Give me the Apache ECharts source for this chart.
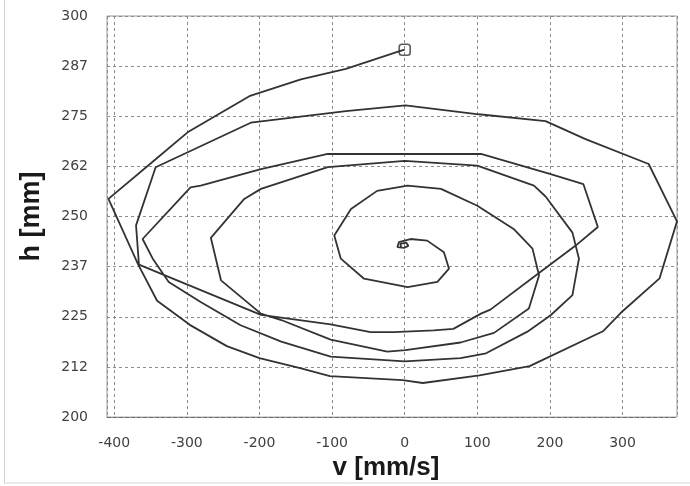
<!DOCTYPE html>
<html>
<head>
<meta charset="utf-8">
<script src="https://cdn.jsdelivr.net/npm/echarts@6/dist/echarts.min.js"></script>
<style>
html,body{margin:0;padding:0;background:#fff;}
#chart{width:690px;height:486px;}
</style>
</head>
<body>
<div id="chart"></div>
<script>
// trajectory pieces, [v (mm/s), h (mm)]
const approach = [[0,291.6],[-8,291.2],[-81,286.8],[-143,284.2],[-214,280],[-299,271],[-343,264.3],[-408,254.4]];
const loop1 = [[-367,238],[-341,229],[-296,223],[-245,217.7],[-200,214.7],[-144,212.2],[-103,210.2],[-3,209.2],[25,208.5],[103,210.4],[172,212.7],[273,221.4],[300,226.4],[351,234.6],[375,248.8],[336,263.1],[249,269.3],[194,273.8],[102,275.5],[1,277.7],[-81,276.3],[-212,273.4],[-343,262.3],[-370,247.8]];
const loop2 = [[-366,238],[-331,235.4],[-198,225.5],[-102,223.1],[-47,221.2],[-15,221.2],[40,221.6],[67,222],[105,225.8],[118,226.8],[184,235.8],[235,242.7],[266,247.4],[246,258.1],[201,260.6],[105,265.6],[-106,265.6],[-198,261.8],[-281,257.7],[-295,257.3],[-361,244.4]];
const loop3 = [[-347,239.5],[-325,233.7],[-281,228.7],[-226,222.9],[-170,218.8],[-102,215.1],[0,213.9],[77,214.7],[112,215.9],[169,221.3],[201,225.4],[231,230.4],[240,239.5],[231,246],[194,255],[178,257.7],[100,262.7],[0,263.9],[-106,262.3],[-198,256.9],[-221,254.4],[-267,244.7],[-253,234.1]];
const loop4 = [[-198,225.8],[-170,224.2],[-102,219.3],[-24,216.3],[1,216.7],[77,218.6],[123,221],[171,227.1],[185,235.3],[176,242],[150,246.9],[100,252.7],[50,256.9],[4,257.7],[-38,256.4],[-74,251.9],[-97,245.3],[-88,239.5],[-56,234.5],[4,232.4],[45,233.7],[61,237],[54,241.1],[31,244],[8,244.4],[-8,243.6],[-10,242.4],[-1,242.2],[5,242.7],[2,243.5],[-6,243.2],[-5,242.5]];
const startPoint = [[0,291.6]];

const xMin = -410, xMax = 375;
const yMin = 200, yMax = 300, yStep = 12.5;
const xName = 'v [mm/s]';
const yName = 'h [mm]';

const path = approach.concat(loop1, loop2, loop3, loop4);

const chart = echarts.init(document.getElementById('chart'), null, {renderer:'canvas'});
const gridLine = {show:true, lineStyle:{color:'#8c8c8c', width:1, type:[3,3]}};
const labelStyle = {color:'#404040', fontSize:14, fontFamily:'DejaVu Sans'};
chart.setOption({
  backgroundColor:'#ffffff',
  animation:false,
  graphic:[{type:'rect', silent:true, shape:{x:4.5, y:-2, width:700, height:485}, style:{fill:'none', stroke:'#d4d4d4', lineWidth:1}}],
  grid:{left:107, right:13, top:16, bottom:67, show:true, borderColor:'#9a9a9a', borderWidth:1, backgroundColor:'#fff'},
  xAxis:{
    type:'value', min:xMin, max:xMax, splitNumber:8,
    name:xName, nameLocation:'middle', nameGap:26,
    nameTextStyle:{fontSize:26, fontWeight:'bold', color:'#1a1a1a', fontFamily:'Liberation Sans', padding:[0,12,0,0]},
    axisLine:{show:true, lineStyle:{color:'#6a6a6a', type:[4,2]}},
    axisTick:{show:false},
    axisLabel:{...labelStyle, margin:19, showMinLabel:false, showMaxLabel:false},
    splitLine:gridLine
  },
  yAxis:{
    type:'value', min:yMin, max:yMax, interval:yStep,
    name:yName, nameLocation:'middle', nameGap:62, nameRotate:90,
    nameTextStyle:{fontSize:27, fontWeight:'bold', color:'#1a1a1a', fontFamily:'Liberation Sans'},
    axisLine:{show:false},
    axisTick:{show:false},
    axisLabel:{...labelStyle, margin:19, formatter:(v)=>String(Math.floor(v))},
    splitLine:gridLine
  },
  series:[
    {type:'line', data:path, showSymbol:false, smooth:false,
     lineStyle:{color:'#333333', width:1.8}, z:3},
    {type:'scatter', data:startPoint, symbol:'roundRect', symbolSize:11,
     itemStyle:{color:'rgba(0,0,0,0)', borderColor:'#333333', borderWidth:1.6}, z:4}
  ]
});
</script>
</body>
</html>
